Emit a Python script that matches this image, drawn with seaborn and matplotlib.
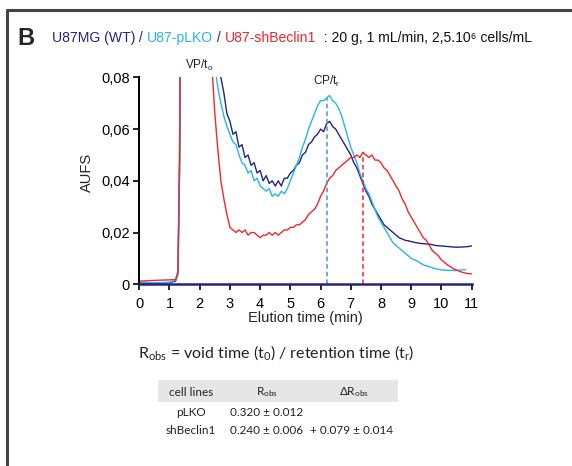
import pandas as pd
import seaborn as sns
import matplotlib.pyplot as plt
from matplotlib.lines import Line2D

# elution time (min) and detector signal (AUFS)
time_min = [0, 0.5, 1.0, 1.2, 1.28, 1.34, 1.4, 2.0, 2.3, 2.4, 2.5,
            2.6, 2.7, 2.8, 2.9, 3.0, 3.1, 3.2, 3.3, 3.4, 3.5,
            3.6, 3.7, 3.8, 3.9, 4.0, 4.1, 4.2, 4.3, 4.4, 4.5,
            4.6, 4.7, 4.8, 4.9, 5.0, 5.1, 5.2, 5.3, 5.4, 5.5,
            5.6, 5.7, 5.8, 5.9, 6.0, 6.1, 6.2, 6.3, 6.4, 6.5,
            6.6, 6.7, 6.8, 6.9, 7.0, 7.1, 7.2, 7.3, 7.4, 7.5,
            7.6, 7.7, 7.8, 7.9, 8.0, 8.1, 8.2, 8.3, 8.4, 8.5,
            8.6, 8.7, 8.8, 8.9, 9.0, 9.1, 9.2, 9.3, 9.4, 9.5,
            9.6, 9.7, 9.8, 9.9, 10.0, 10.1, 10.2, 10.3, 10.4, 10.5,
            10.6, 10.7, 10.8, 10.9, 11.0]

wt = [0.0005, 0.0004, 0.0006, 0.0012, 0.004, 0.05, 0.2, 0.3, 0.3, 0.25, 0.15,
      0.100, 0.080, 0.074, 0.066, 0.063, 0.058, 0.059, 0.053, 0.054, 0.049,
      0.050, 0.046, 0.047, 0.043, 0.044, 0.040, 0.042, 0.039, 0.040, 0.038,
      0.040, 0.038, 0.041, 0.041, 0.043, 0.044, 0.046, 0.047, 0.050, 0.051,
      0.054, 0.055, 0.057, 0.058, 0.060, 0.059, 0.062, 0.063, 0.061, 0.060,
      0.058, 0.056, 0.054, 0.052, 0.050, 0.047, 0.045, 0.042, 0.039, 0.036,
      0.034, 0.031, 0.029, 0.027, 0.025, 0.023, 0.022, 0.021, 0.020, 0.019,
      0.018, 0.0175, 0.017, 0.0168, 0.0165, 0.0162, 0.016, 0.0158, 0.0157, 0.0156,
      0.0155, 0.0153, 0.015, 0.0149, 0.0148, 0.0147, 0.0146, 0.0145, 0.0144, 0.0143,
      0.0144, 0.0144, 0.0145, 0.0146, 0.0148]

plko = [0.0008, 0.0005, 0.0008, 0.0015, 0.004, 0.05, 0.2, 0.3, 0.25, 0.15, 0.085,
        0.076, 0.070, 0.065, 0.061, 0.058, 0.055, 0.054, 0.050, 0.047, 0.046,
        0.043, 0.044, 0.040, 0.041, 0.038, 0.037, 0.036, 0.037, 0.034, 0.035,
        0.034, 0.036, 0.035, 0.037, 0.040, 0.043, 0.046, 0.049, 0.053, 0.056,
        0.060, 0.063, 0.066, 0.069, 0.071, 0.071, 0.072, 0.073, 0.071, 0.070,
        0.068, 0.065, 0.061, 0.057, 0.053, 0.050, 0.047, 0.043, 0.040, 0.037,
        0.035, 0.032, 0.029, 0.026, 0.024, 0.022, 0.020, 0.018, 0.016, 0.015,
        0.014, 0.013, 0.012, 0.011, 0.010, 0.0095, 0.009, 0.0082, 0.0075, 0.0071,
        0.0068, 0.0064, 0.006, 0.0058, 0.0055, 0.0055, 0.0054, 0.0054, 0.0053, 0.0053,
        0.0055, 0.0056, 0.0056, None, None]

shbeclin = [0.0012, 0.0015, 0.0017, 0.0018, 0.005, 0.06, 0.2, 0.3, 0.15, 0.085, 0.066,
            0.052, 0.040, 0.033, 0.027, 0.022, 0.021, 0.020, 0.021, 0.020, 0.021,
            0.019, 0.020, 0.020, 0.019, 0.018, 0.019, 0.019, 0.020, 0.019, 0.020,
            0.019, 0.020, 0.021, 0.021, 0.022, 0.022, 0.023, 0.023, 0.024, 0.025,
            0.027, 0.028, 0.029, 0.031, 0.034, 0.036, 0.039, 0.041, 0.042, 0.044,
            0.045, 0.046, 0.047, 0.048, 0.049, 0.049, 0.050, 0.049, 0.051, 0.050,
            0.049, 0.050, 0.048, 0.048, 0.047, 0.045, 0.044, 0.042, 0.040, 0.038,
            0.036, 0.033, 0.031, 0.028, 0.026, 0.024, 0.022, 0.020, 0.018, 0.017,
            0.015, 0.013, 0.012, 0.011, 0.0094, 0.0085, 0.0075, 0.0068, 0.006, 0.0055,
            0.005, 0.0046, 0.0043, 0.0041, 0.004]

series_names = ["U87MG (WT)", "U87-pLKO", "U87-shBeclin1"]
series_colors = ["#232480", "#28b4ec", "#f2262b"]

# retention times (peak positions)
tr_plko = 6.2
tr_shbeclin = 7.4
peak_plko = 0.072
peak_shbeclin = 0.051

# table
cell_lines = ["pLKO", "shBeclin1"]
r_obs = ["0.320 ± 0.012", "0.240 ± 0.006"]
delta_r_obs = ["", "+ 0.079 ± 0.014"]

df = pd.DataFrame({
    "time": time_min * 3,
    "aufs": wt + plko + shbeclin,
    "line": [series_names[0]] * len(time_min) + [series_names[1]] * len(time_min)
            + [series_names[2]] * len(time_min),
})
df["aufs"] = df["aufs"].astype(float)

sns.set_style("ticks")
plt.rcParams['font.family'] = ['Liberation Sans', 'DejaVu Sans']

fig = plt.figure(figsize=(5.72, 4.66), dpi=100)
ax = fig.add_axes([0.2435, 0.39, 0.581, 0.444])

sns.lineplot(data=df, x="time", y="aufs", hue="line", hue_order=series_names,
             palette=series_colors, linewidth=1.0, legend=False, ax=ax)

ax.vlines(tr_plko, 0, peak_plko, colors="#4f93cf", linestyles=(0, (3, 2)), linewidth=1.1)
ax.vlines(tr_shbeclin, 0, peak_shbeclin, colors="#f2262b", linestyles=(0, (3, 2)), linewidth=1.1)

ax.set_xlim(0, 11)
ax.set_ylim(0, 0.08)
ax.set_xticks(range(0, 12))
ax.set_yticks([0, 0.02, 0.04, 0.06, 0.08])
ax.set_yticklabels(["0", "0,02", "0,04", "0,06", "0,08"])
ax.tick_params(axis="both", direction="out", length=4, width=1.2, labelsize=10.5,
               colors="black", pad=3)
ax.tick_params(axis="x", pad=5)
ax.set_xlabel("Elution time (min)", fontsize=10.5, labelpad=0)
ax.set_ylabel("AUFS", fontsize=10.5, labelpad=3)
ax.yaxis.set_label_coords(-0.135, 0.54)
for side in ["top", "right"]:
    ax.spines[side].set_visible(False)
ax.spines["left"].set_linewidth(1.4)
ax.spines["left"].set_color("black")
ax.spines["bottom"].set_linewidth(1.8)
ax.spines["bottom"].set_color("#232480")

ax.text(2.0, 0.0815, r"VP/t$\mathregular{_o}$", fontsize=8.5, ha="center", va="bottom",
        color="#222222", clip_on=False)
ax.text(tr_plko, 0.0755, r"CP/t$\mathregular{_r}$", fontsize=8.5, ha="center", va="bottom",
        color="#222222")

# frame of the panel
fig.add_artist(Line2D([0.012, 1.0], [0.978, 0.978], color="#444444", linewidth=2.2))
fig.add_artist(Line2D([0.012, 0.012], [0.0, 0.978], color="#444444", linewidth=2.2))

# title with coloured parts
fig.text(0.03, 0.918, "B", fontsize=17, fontweight="bold", va="center")
parts = [("U87MG (WT)", series_colors[0]), (" / ", "#232480"),
         ("U87-pLKO", series_colors[1]), (" / ", "#232480"),
         ("U87-shBeclin1", series_colors[2]),
         ("  : 20 g, 1 mL/min, 2,5.10⁶ cells/mL", "#111111")]
renderer = fig.canvas.get_renderer()
x_px = 0.091 * fig.bbox.width
for txt, col in parts:
    t = fig.text(x_px / fig.bbox.width, 0.918, txt, fontsize=10.1, color=col, va="center")
    x_px += t.get_window_extent(renderer).width

calibri_like = ['Lato', 'DejaVu Sans']
fig.text(0.4825, 0.243,
         r"R$\mathregular{_{obs}}$ = void time (t$\mathregular{_0}$) / retention time (t$\mathregular{_r}$)",
         fontsize=11.5, ha="center", va="center", family=calibri_like, color="#222222")

# table
fig.patches.append(plt.Rectangle((158 / 572, 1 - 402 / 466), 240 / 572, 22 / 466,
                                 transform=fig.transFigure, facecolor="#e6e6e6",
                                 edgecolor="none", zorder=0))
col_x = [191 / 572, 267 / 572, 354 / 572]
header = ["cell lines", r"R$\mathregular{_{obs}}$", r"ΔR$\mathregular{_{obs}}$"]
for cx, h in zip(col_x, header):
    fig.text(cx, 1 - 392 / 466, h, fontsize=8.5, ha="center", va="center",
             family=calibri_like, color="#222222")
row_y = [1 - 412 / 466, 1 - 431 / 466]
for ry, name, r, d in zip(row_y, cell_lines, r_obs, delta_r_obs):
    fig.text(col_x[0], ry, name, fontsize=8.5, ha="center", va="center",
             family=calibri_like, color="#222222")
    fig.text(col_x[1], ry, r, fontsize=8.5, ha="center", va="center",
             family=calibri_like, color="#222222")
    fig.text(352 / 572, ry, d, fontsize=8.5, ha="center", va="center",
             family=calibri_like, color="#222222")

fig.savefig("out.png", dpi=100)
